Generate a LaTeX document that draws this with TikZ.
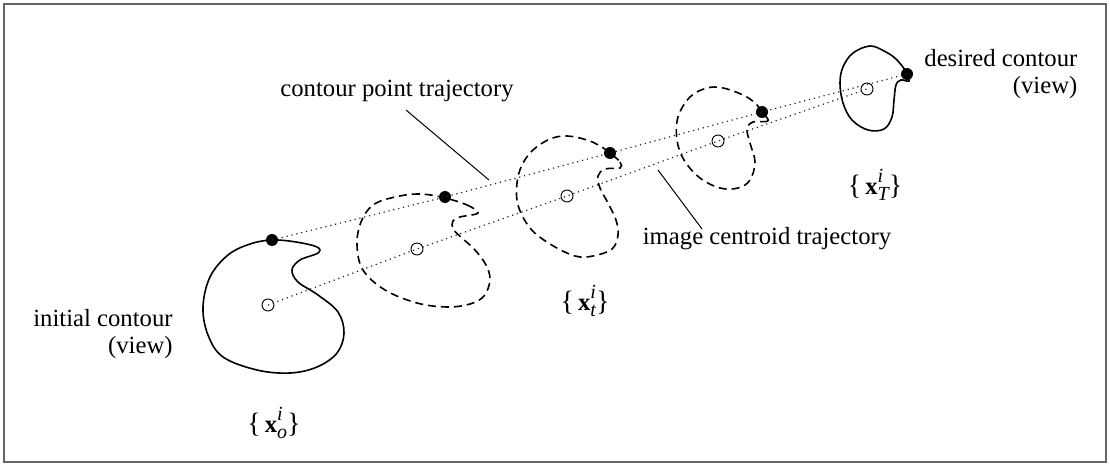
\documentclass[tikz,border=0pt]{standalone}
\usepackage{fontspec}
\setmainfont{Liberation Serif}
\usetikzlibrary{positioning}

\newcommand{\ptset}[1]{{\fontsize{14}{14}\selectfont\textbraceleft}\,\textbf{x}\rlap{\raisebox{0.5em}{\fontsize{10}{10}\selectfont\itshape i}}\raisebox{-0.25em}{\fontsize{10}{10}\selectfont\itshape #1}{\fontsize{14}{14}\selectfont\textbraceright}}

\begin{document}
\begin{tikzpicture}[x=0.5pt,y=-0.5pt,
  lbl/.style={inner sep=1pt,font=\fontsize{12.35}{13.5}\selectfont},
  contour/.style={draw=black,line width=0.8pt},
  moving/.style={contour,dash pattern=on 4pt off 2.5pt},
  traj/.style={draw=black!85,line width=0.6pt,dash pattern=on 0.6pt off 1.9pt},
  leader/.style={draw=black,line width=0.5pt},
  ptdot/.style={circle,fill=black,inner sep=0pt,minimum size=6pt},
  ctrdot/.style={circle,draw=black,line width=0.45pt,inner sep=0pt,minimum size=6pt}]
\useasboundingbox (0,0) rectangle (1110,466);
\draw[black!60,line width=0.7pt] (4,4) rectangle (1106,462);
% contours
\draw[contour] plot[smooth cycle,tension=0.6] coordinates {(272,240) (296,242) (317,247) (318,253) (300,260) (292,270) (298,282) (318,295) (338,312) (344,333) (337,353) (317,367) (290,373) (257,370) (223,357) (208,335) (203,307) (210,277) (228,255) (250,244)};
\draw[moving] plot[smooth cycle,tension=0.6] coordinates {(445,198) (467,205) (478,213) (460,217) (453,221) (453,229) (462,238) (475,250) (486,265) (490,280) (484,296) (470,304) (447,307) (417,303) (385,290) (363,270) (357,245) (361,222) (373,205) (395,197) (420,194)};
\draw[moving] plot[smooth cycle,tension=0.6] coordinates {(610,153) (620,162) (620,168) (605,169) (598,176) (600,188) (608,203) (616,220) (618,235) (612,249) (593,256) (575,256) (550,244) (530,228) (518,205) (517,183) (522,165) (533,150) (550,139) (567,136) (587,140) (600,146)};
\draw[moving] plot[smooth cycle,tension=0.6] coordinates {(762,112) (768,121) (753,122) (747,129) (750,143) (755,162) (750,180) (738,188) (720,188) (700,178) (684,160) (677,140) (678,117) (690,97) (707,88) (723,88) (743,95) (755,103)};
\draw[contour] plot[smooth cycle,tension=0.6] coordinates {(907,73) (909,81) (901,80) (896,85) (894,100) (892,117) (884,129) (868,130) (852,120) (843,103) (840,83) (843,67) (853,53) (870,46) (884,51) (896,59)};
% contour points and centroids
\node[ptdot] (p1) at (272,240) {};
\node[ptdot] (p2) at (445,197) {};
\node[ptdot] (p3) at (610,153) {};
\node[ptdot] (p4) at (762,112) {};
\node[ptdot] (p5) at (907,74) {};
\node[ctrdot] (c1) at (268,305) {};
\node[ctrdot] (c2) at (417,249) {};
\node[ctrdot] (c3) at (567,196) {};
\node[ctrdot] (c4) at (718,141) {};
\node[ctrdot] (c5) at (867,89) {};
\draw[traj] (p1.center) -- (p2.center) -- (p3.center) -- (p4.center) -- (p5.center);
\draw[traj] (c1.center) -- (c2.center) -- (c3.center) -- (c4.center) -- (c5.center);
% labels
\node[lbl,align=right,anchor=east] (initlabel) at (175,334) {initial contour\\(view)};
\node[lbl,align=right,anchor=west] (desiredlabel) at (922,74) {desired contour\\(view)};
\node[lbl] (cptlabel) at (397,91) {contour point trajectory};
\node[lbl] (ctrlabel) at (767,239) {image centroid trajectory};
\node[lbl] (setinit) at (274,423) {\ptset{o}};
\node[lbl] (setmid) at (585,301) {\ptset{t}};
\node[lbl] (setend) at (875,185) {\ptset{T}};
\coordinate (cpttop) at (406,110);
\coordinate (cptfoot) at (489,180);
\coordinate (ctrtop) at (658,170);
\coordinate (ctrfoot) at (702,229);
\draw[leader] (cpttop) -- (cptfoot);
\draw[leader] (ctrtop) -- (ctrfoot);
\end{tikzpicture}
\end{document}
